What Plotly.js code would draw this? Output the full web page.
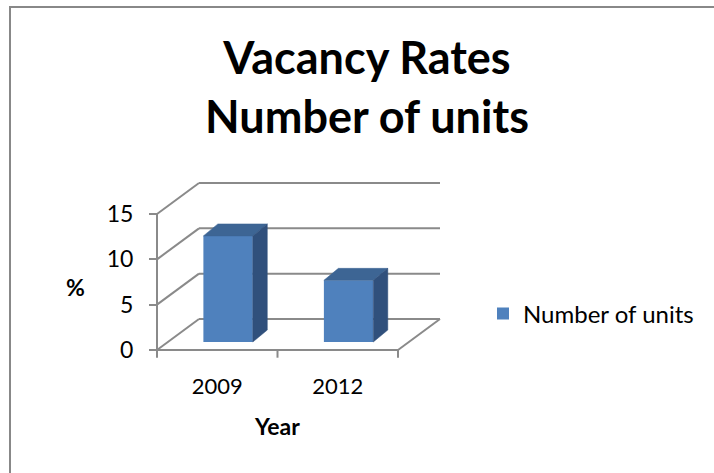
<!DOCTYPE html>
<html>
<head>
<meta charset="utf-8">
<script src="https://cdn.plot.ly/plotly-3.0.1.min.js"></script>
<style>html,body{margin:0;padding:0;background:#fff;}#chart{width:714px;height:473px;}</style>
</head>
<body>
<div id="chart"></div>
<script>
// ---- data ----
var years = ['2009', '2012'];
var vacancy = [11.7, 6.8];
var seriesName = 'Number of units';
var yTicks = [0, 5, 10, 15];
var chartTitle = 'Vacancy Rates<br>Number of units';
var xTitle = 'Year';
var yTitle = '%';

// ---- geometry (styling / projection constants) ----
var W = 714, H = 473;
var mL = 150, mR = 264, mT = 178, mB = 112;
var plotW = W - mL - mR, plotH = H - mT - mB;
var pxPerX = 120.5, pxPerY = 136 / 15;
var xRange = [-(7 / pxPerX), plotW / pxPerX - 7 / pxPerX];
var yRange = [-(11 / pxPerY), plotH / pxPerY - 11 / pxPerY];
var DX = 42 / pxPerX, DY = 31 / pxPerY;       // full floor depth
var frac = 8 / 31;                               // bar front-face depth
var barW = 0.41;
var bdx = 14.5 / pxPerX, bdy = 12 / pxPerY;     // bar own depth
var gridColor = '#8a8a8a', gridW = 2;
var frontColor = '#4F81BD', topColor = '#3D6594', sideColor = '#30507C';
var FONT = 'Lato, "Open Sans", sans-serif';

var nCat = years.length;
var centers = years.map(function (_, i) { return i + 0.5; });
var barX = centers.map(function (c) { return c + frac * DX; });
var base0 = frac * DY;
var yMax = yTicks[yTicks.length - 1];

function px2paperX(p) { return (p - mL) / plotW; }
function px2paperY(p) { return (H - mB - p) / plotH; }

var shapes = [];
function seg(x0, y0, x1, y1) {
  shapes.push({type: 'line', xref: 'x', yref: 'y', x0: x0, y0: y0, x1: x1, y1: y1,
    layer: 'below', line: {color: gridColor, width: gridW}});
}
// back wall gridlines + left wall diagonals
yTicks.forEach(function (v) {
  seg(DX, DY + v, nCat + DX, DY + v);
  seg(0, v, DX, DY + v);
});
// floor front edge and right edge
seg(0, 0, nCat, 0);
seg(nCat, 0, nCat + DX, DY);
// front vertical axis line
seg(0, 0, 0, yMax);
// category tick marks on floor edge
for (var i = 0; i <= nCat; i++) seg(i, 0, i, -0.85);

// chart border (left and top)
shapes.push({type: 'line', xref: 'paper', yref: 'paper', x0: px2paperX(10), x1: px2paperX(10),
  y0: px2paperY(7), y1: px2paperY(H + 2), line: {color: '#888', width: 2}});
shapes.push({type: 'line', xref: 'paper', yref: 'paper', x0: px2paperX(9), x1: px2paperX(W + 2),
  y0: px2paperY(7), y1: px2paperY(7), line: {color: '#888', width: 2}});

var traces = [];
traces.push({
  type: 'bar', name: seriesName, x: barX, y: vacancy, base: base0, width: barW,
  marker: {color: frontColor, line: {width: 0}}, hoverinfo: 'skip', showlegend: true
});
vacancy.forEach(function (v, i) {
  var xl = barX[i] - barW / 2, xr = barX[i] + barW / 2, top = base0 + v;
  traces.push({type: 'scatter', mode: 'lines', fill: 'toself', fillcolor: topColor,
    line: {width: 0.5, color: topColor}, hoverinfo: 'skip', showlegend: false,
    x: [xl, xr, xr + bdx, xl + bdx, xl], y: [top, top, top + bdy, top + bdy, top]});
  traces.push({type: 'scatter', mode: 'lines', fill: 'toself', fillcolor: sideColor,
    line: {width: 0.5, color: sideColor}, hoverinfo: 'skip', showlegend: false,
    x: [xr, xr + bdx, xr + bdx, xr, xr], y: [base0, base0 + bdy, top + bdy, top, base0]});
});

var layout = {
  width: W, height: H,
  margin: {l: mL, r: mR, t: mT, b: mB, pad: 0},
  paper_bgcolor: '#fff', plot_bgcolor: 'rgba(0,0,0,0)',
  font: {family: FONT, color: '#000'},
  title: {text: chartTitle, xref: 'container', x: 367 / W, xanchor: 'center',
    yref: 'container', y: 1 - 74 / H, yanchor: 'top',
    font: {family: FONT, size: 45, weight: 'bold', color: '#000'}},
  xaxis: {range: xRange, showgrid: false, zeroline: false, showline: false,
    tickvals: centers, ticktext: years, ticks: '', ticklabelstandoff: 10,
    tickfont: {family: FONT, size: 22, color: '#000'}, fixedrange: true},
  yaxis: {range: yRange, showgrid: false, zeroline: false, showline: false,
    anchor: 'free', position: 7 / plotW,
    tickvals: yTicks, ticks: 'outside', ticklen: 8, tickwidth: 2, tickcolor: gridColor,
    ticklabelstandoff: 11,
    tickfont: {family: FONT, size: 23, color: '#000'}, fixedrange: true},
  shapes: shapes,
  showlegend: true,
  legend: {x: px2paperX(483), xanchor: 'left', y: px2paperY(314), yanchor: 'middle',
    font: {family: FONT, size: 24, color: '#000'}, bgcolor: 'rgba(0,0,0,0)'},
  annotations: [
    {text: yTitle, xref: 'paper', yref: 'paper', x: px2paperX(75), y: px2paperY(287),
      xanchor: 'center', yanchor: 'middle', showarrow: false,
      font: {family: FONT, size: 23, weight: 'bold', color: '#000'}},
    {text: xTitle, xref: 'paper', yref: 'paper', x: px2paperX(277), y: px2paperY(426),
      xanchor: 'center', yanchor: 'middle', showarrow: false,
      font: {family: FONT, size: 23, weight: 'bold', color: '#000'}}
  ]
};

Plotly.newPlot('chart', traces, layout, {displayModeBar: false, staticPlot: true});
</script>
</body>
</html>
